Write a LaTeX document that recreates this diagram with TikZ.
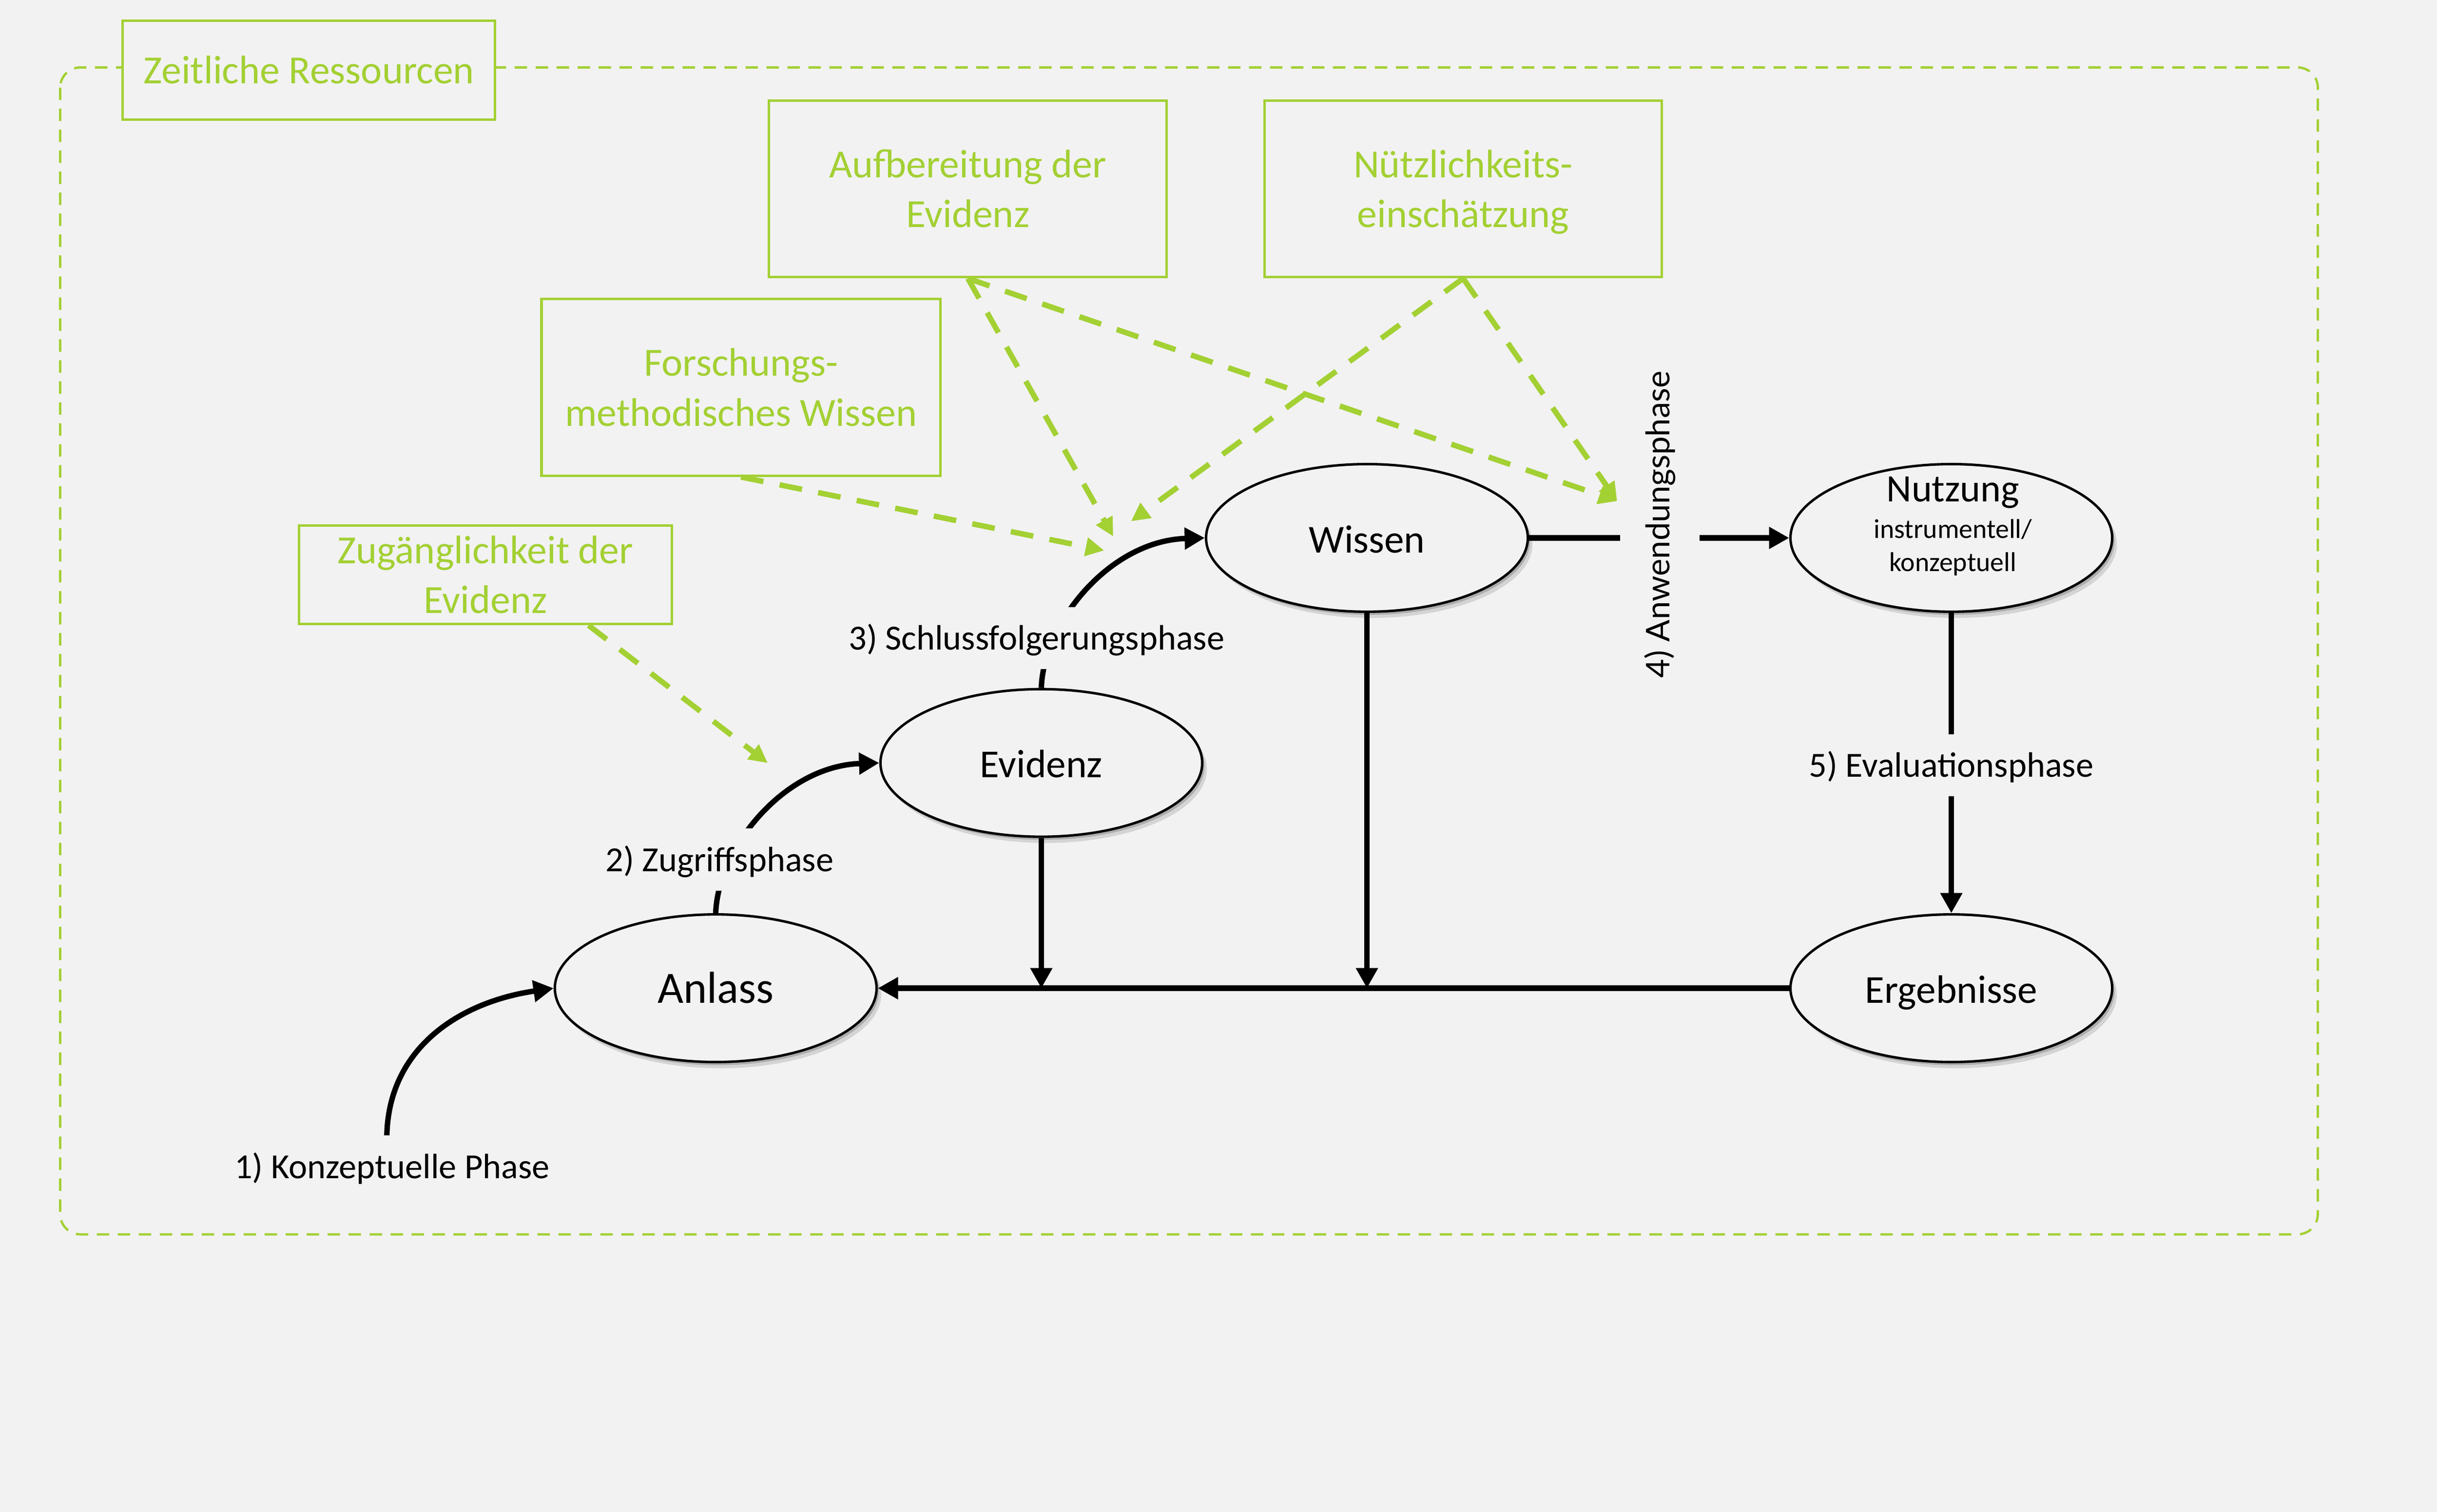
\documentclass[tikz,border=0pt]{standalone}
\usepackage{fontspec}
\setmainfont{Carlito}
\newfontfamily\rotfont{Lato}
\usetikzlibrary{shapes.geometric,arrows.meta,shadows,calc}
\definecolor{bg}{RGB}{242,242,242}
\definecolor{lime}{RGB}{163,208,51}
\newcommand\gstrut{\rule[-5.9pt]{0pt}{29.4pt}}
\newcommand\lstrut{\rule[-4.8pt]{0pt}{24.8pt}}
\begin{document}
\begin{tikzpicture}[x=1pt,y=-1pt,
  greenbox/.style={draw=lime, line width=1.6pt, fill=bg, text=lime,
    font=\fontsize{25.7}{32}\selectfont, align=center, inner sep=0pt},
  phasenode/.style={ellipse, draw=black, line width=1.6pt, fill=bg,
    minimum width=207pt, minimum height=95pt, inner sep=0pt,
    font=\fontsize{25.5}{30}\selectfont, text height=19pt, text depth=0pt,
    drop shadow={shadow xshift=1.5pt, shadow yshift=-2pt, opacity=0.18, fill=black},
    drop shadow={shadow xshift=3pt, shadow yshift=-4pt, opacity=0.12, fill=black}},
  flow/.style={line width=3.5pt, -{Triangle[length=13pt,width=13.5pt]}},
  gflow/.style={draw=lime, line width=3.5pt, dash pattern=on 14.7pt off 10.6pt,
    -{Triangle[length=12pt,width=11.5pt]}},
  phaselabel/.style={fill=bg, font=\fontsize{22.7}{26}\selectfont,
    inner xsep=3pt, inner ysep=0pt, minimum height=40pt},
  rotlabel/.style={fill=bg, rotate=90, font=\rotfont\fontsize{21}{24}\selectfont,
    inner xsep=0pt, inner ysep=0pt, minimum height=51pt},
  frame/.style={draw=lime, line width=1.5pt, dash pattern=on 8pt off 5.5pt, rounded corners=13pt},
]
% background and bounding box
\fill[bg] (0,0) rectangle (1568,973);
\useasboundingbox (0,0) rectangle (1568,973);

% outer dashed frame
\draw[frame] (38.7,43.4) rectangle (1491.3,794.4);

% green resource boxes
\node[greenbox, minimum width=239.7pt, minimum height=63.7pt] (zeit) at (198.7,45.05) {\gstrut Zeitliche Ressourcen};
\node[greenbox, minimum width=255.9pt, minimum height=113.5pt] (aufb) at (622.75,121.65) {\gstrut Aufbereitung der\\\gstrut Evidenz};
\node[greenbox, minimum width=255.4pt, minimum height=113.5pt] (nuetz) at (941.4,121.65) {\gstrut Nützlichkeits-\\\gstrut einschätzung};
\node[greenbox, minimum width=256.8pt, minimum height=113.8pt] (forsch) at (476.8,249.3) {\gstrut Forschungs-\\\gstrut methodisches Wissen};
\node[greenbox, minimum width=239.8pt, minimum height=63.4pt] (zug) at (312.3,370) {\gstrut Zugänglichkeit der\\\gstrut Evidenz};

% phase ellipses
\node[phasenode, font=\fontsize{28.8}{32}\selectfont] (anlass) at (460.5,636) {Anlass};
\node[phasenode] (evidenz) at (670,491) {Evidenz};
\node[phasenode] (wissen) at (879.5,346.2) {Wissen};
\node[phasenode] (nutzung) at (1255.5,346.2) {};
\node[phasenode] (ergebnisse) at (1255.5,636) {Ergebnisse};

\node[font=\fontsize{25}{30}\selectfont, anchor=base, inner sep=0pt] (nutzt) at (1256.5,322.9) {Nutzung};
\node[font=\fontsize{17.5}{21}\selectfont, anchor=base, inner sep=0pt] (nutzs1) at (1256.5,346.3) {instrumentell/};
\node[font=\fontsize{17.5}{21}\selectfont, anchor=base, inner sep=0pt] (nutzs2) at (1256.5,367.6) {konzeptuell};

% coordinates for free ends
\coordinate (c1) at (248.9,730.8);
\coordinate (gz) at (494,491.1);
\coordinate (gl1) at (710.5,354.3);
\coordinate (gl2) at (716.3,345.3);
\coordinate (gl3) at (727.7,335.5);
\coordinate (gr) at (1040.5,322.5);

% black connectors
\draw[flow] (c1) .. controls (250,675) and (295,645) .. (anlass.west);
\draw[flow] (anlass.north) .. controls (462,545) and (505,493) .. (evidenz.west);
\draw[flow] (evidenz.north) .. controls (671.5,400) and (714.5,348) .. (wissen.west);
\draw[flow] (wissen.east) -- (nutzung.west);
\draw[flow] (nutzung.south) -- (ergebnisse.north);
\draw[flow] (ergebnisse.west) -- (anlass.east);
\draw[flow] (evidenz.south) -- (evidenz.south |- anlass.east);
\draw[flow] (wissen.south) -- (wissen.south |- anlass.east);

% phase labels
\node[phaselabel] (l1) at (252.3,750.8) {\lstrut 1) Konzeptuelle Phase};
\node[phaselabel] (l2) at (463,553.2) {\lstrut 2) Zugriffsphase};
\node[phaselabel] (l3) at (667,410.7) {\lstrut 3) Schlussfolgerungsphase};
\node[rotlabel] (l4) at (1068,337.5) {4) Anwendungsphase};
\node[phaselabel] (l5) at (1255.5,492.5) {\lstrut 5) Evaluationsphase};

% green dashed influence arrows
\draw[gflow] ($(zug.south)+(66.4,0)$) -- (gz);
\draw[gflow] (forsch.south) -- (gl1);
\draw[gflow] (aufb.south) -- (gl2);
\draw[gflow] (aufb.south) -- (gr);
\draw[gflow] (nuetz.south) -- (gl3);
\draw[gflow] (nuetz.south) -- (gr);
\end{tikzpicture}
\end{document}
